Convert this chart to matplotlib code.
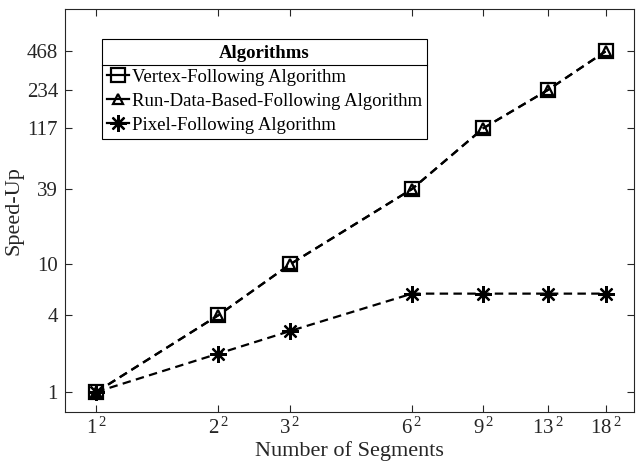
import numpy as np
import matplotlib
matplotlib.use('Agg')
import matplotlib.pyplot as plt
from matplotlib.lines import Line2D

# Data
segments = [1, 4, 9, 36, 81, 169, 324]
seg_labels = [r'$\mathregular{1^{\,2}}$', r'$\mathregular{2^{\,2}}$', r'$\mathregular{3^{\,2}}$',
              r'$\mathregular{6^{\,2}}$', r'$\mathregular{9^{\,2}}$', r'$\mathregular{13^{\,2}}$',
              r'$\mathregular{18^{\,2}}$']
vertex = [1, 4, 10, 39, 117, 234, 468]
run_data = [1, 4, 10, 39, 117, 234, 468]
pixel = [1, 2.0, 3.0, 5.9, 5.9, 5.9, 5.9]
y_ticks = [1, 4, 10, 39, 117, 234, 468]

plt.rcParams['font.family'] = 'Liberation Serif'
plt.rcParams['mathtext.fontset'] = 'custom'
plt.rcParams['mathtext.rm'] = 'Liberation Serif'
axcol = '#262626'

fig = plt.figure(figsize=(6.39, 4.65), dpi=100)
ax = fig.add_axes([0.1017, 0.1146, 0.8903, 0.8654])

dash = (3.8, 2.4)
ax.plot(segments, vertex, color='k', lw=1.6, dashes=dash, marker='s', ms=10,
        mfc='none', mec='k', mew=1.6, label='Vertex-Following Algorithm')
ax.plot(segments, run_data, color='k', lw=1.6, dashes=dash, marker='^', ms=7,
        mfc='none', mec='k', mew=1.6, label='Run-Data-Based-Following Algorithm')
ax.plot(segments, pixel, color='k', lw=1.6, dashes=dash, marker=(8, 2, 0), ms=12,
        mec='k', mew=1.6, label='Pixel-Following Algorithm')

ax.set_xscale('log')
ax.set_yscale('log')
ax.set_xlim(0.7, 447)
ax.set_ylim(0.7, 1000)
ax.set_xticks(segments)
ax.set_xticklabels(seg_labels)
ax.set_yticks(y_ticks)
ax.set_yticklabels([str(v) for v in y_ticks])
ax.minorticks_off()
ax.tick_params(direction='in', top=True, right=True, length=5, width=0.8,
               colors=axcol, labelsize=15)
ax.tick_params(axis='x', pad=4)
ax.tick_params(axis='y', pad=5)
for s in ax.spines.values():
    s.set_color(axcol)
    s.set_linewidth(0.8)

ax.set_xlabel('Number of Segments', fontsize=16, color=axcol, labelpad=2)
ax.set_ylabel('Speed-Up', fontsize=16, color=axcol, labelpad=2)

leg = ax.legend(loc='upper left', bbox_to_anchor=(0.0645, 0.925), borderaxespad=0,
                title='Algorithms', fontsize=13.5, fancybox=False, edgecolor='k',
                framealpha=1, handlelength=1.15, handletextpad=0.15,
                labelspacing=0.36, borderpad=0.3)
leg.get_title().set_fontweight('bold')
leg.get_title().set_fontsize(13.5)
leg.get_frame().set_linewidth(0.8)
for ln in leg.get_lines():
    ln.set_linestyle('-')
    ln.set_linewidth(1.6)

# separator line under legend title
fig.canvas.draw()
r = fig.canvas.get_renderer()
lb = leg.get_window_extent(r)
tb = leg.get_title().get_window_extent(r)
ysep = tb.y0 - 3
inv = fig.transFigure.inverted()
(x0, y0) = inv.transform((lb.x0, ysep))
(x1, _) = inv.transform((lb.x1, ysep))
fig.add_artist(Line2D([x0, x1], [y0, y0], color='k', lw=0.8, zorder=10))

fig.savefig('out.png', dpi=100)
